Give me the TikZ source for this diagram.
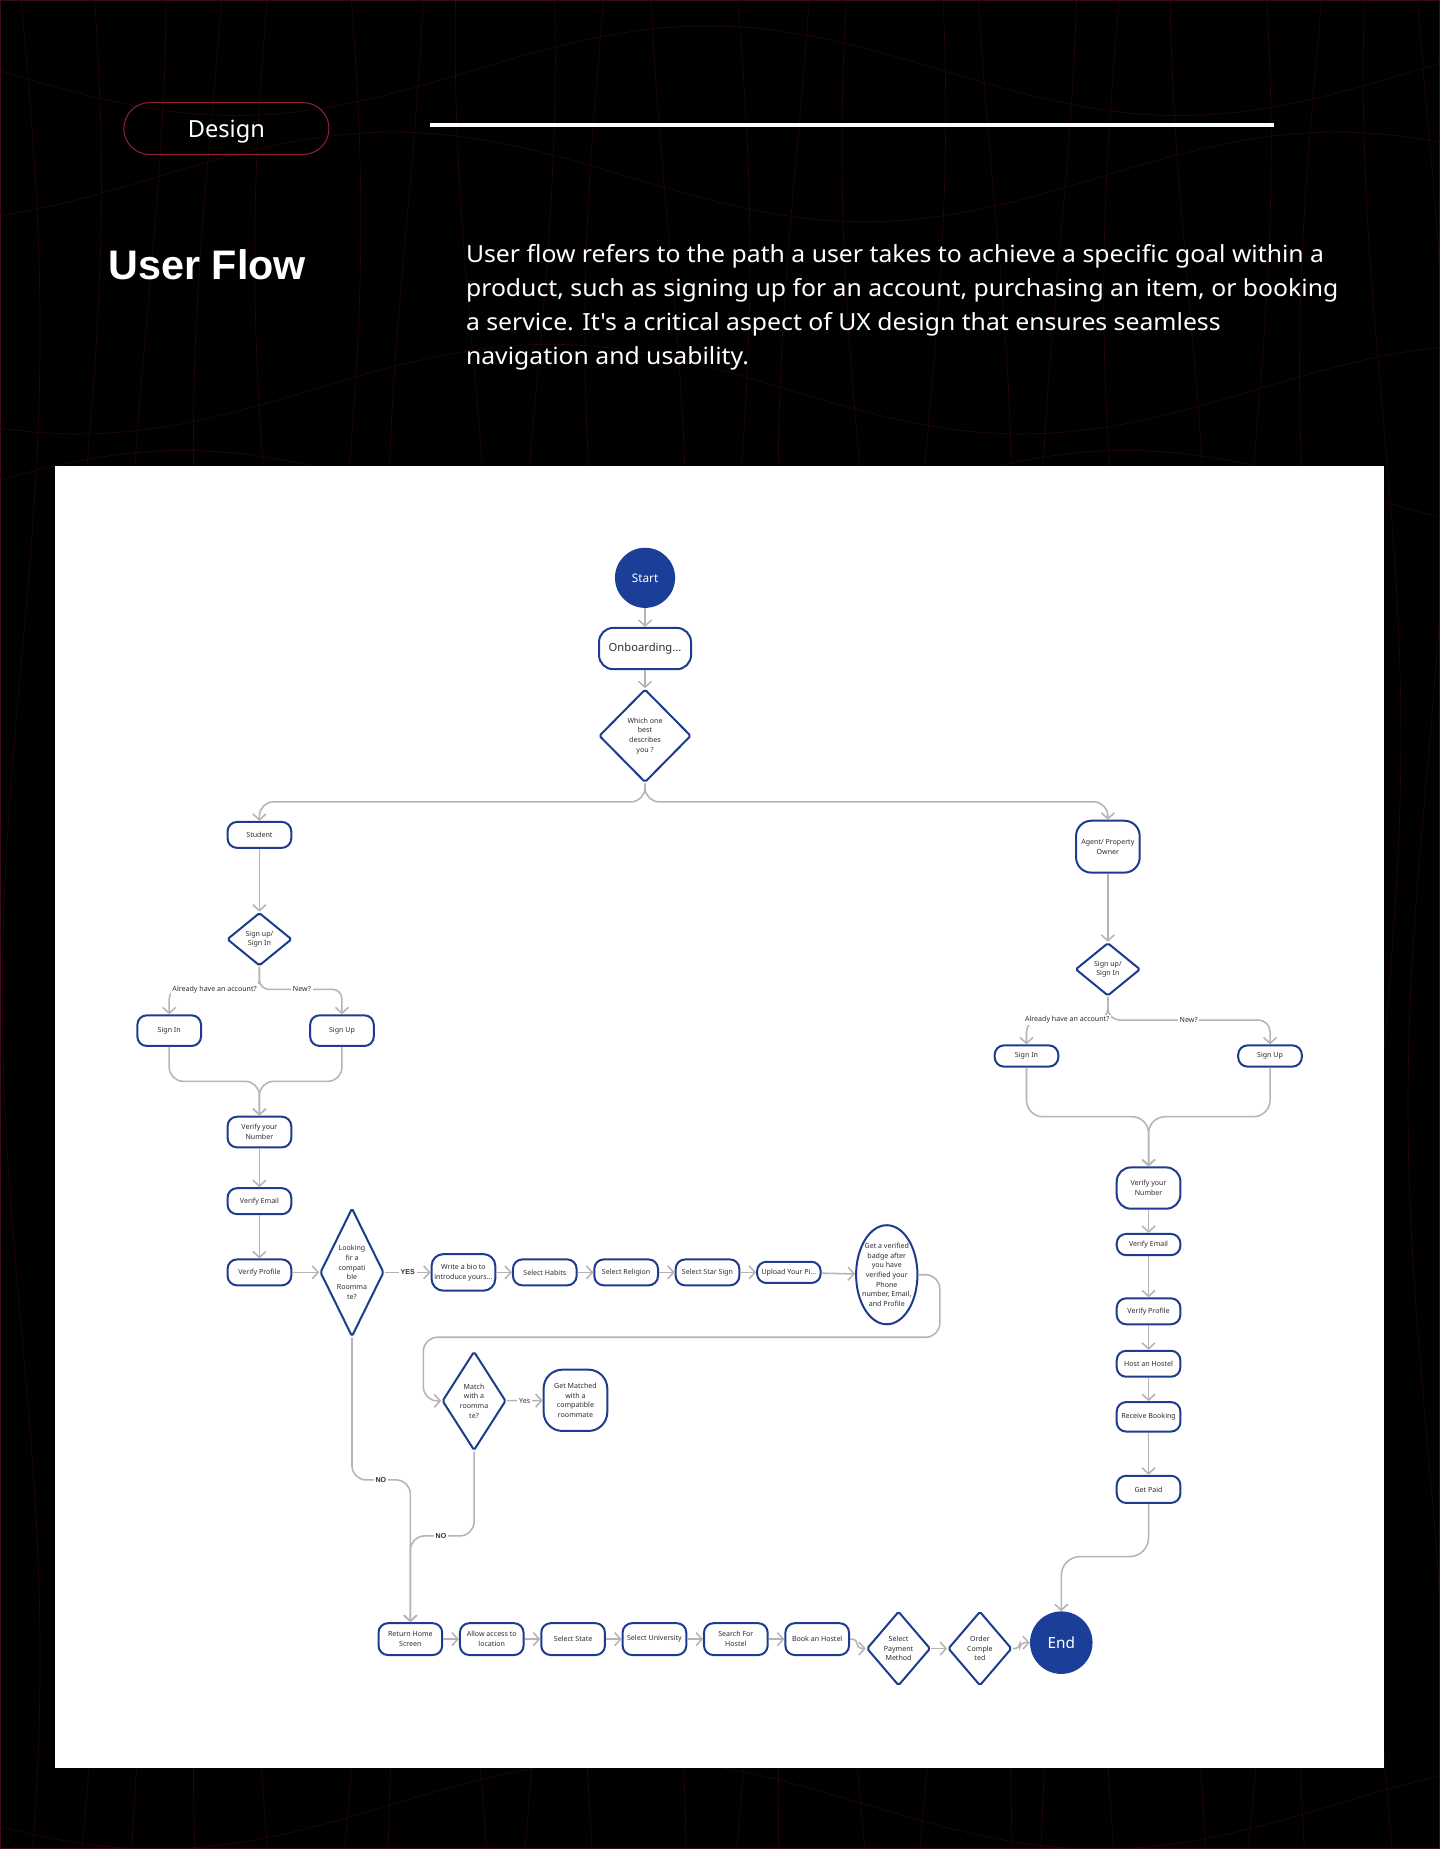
\documentclass[tikz,border=0pt]{standalone}
\usepackage{fontspec}
\setmainfont{Noto Sans}
\newfontfamily\parafont{Noto Sans}[Ligatures=TeXOff]
\newfontfamily\boldfont{Liberation Sans}
\usetikzlibrary{arrows.meta,shapes.geometric,calc}
\definecolor{nodeblue}{HTML}{1E3C8F}
\definecolor{fillblue}{HTML}{1B3F98}
\definecolor{conn}{HTML}{B4B4B4}
\definecolor{txt}{HTML}{2E2E2E}
\definecolor{wave}{HTML}{220709}
\definecolor{edge}{HTML}{3A0C15}
\definecolor{pill}{HTML}{8E1F33}
\begin{document}
\begin{tikzpicture}[x=1pt,y=-1pt,
  box/.style={draw=nodeblue, line width=1.7pt, rounded corners=8pt, fill=white,
    minimum width=54pt, minimum height=22pt, inner sep=0.5pt, align=center,
    font=\fontsize{6}{8.2}\selectfont, text=txt},
  dia/.style={draw=nodeblue, line width=1.7pt, diamond, fill=white, inner sep=0pt,
    rounded corners=1.5pt},
  ell/.style={draw=nodeblue, line width=1.7pt, ellipse, fill=white, inner sep=0pt},
  dtext/.style={font=\fontsize{6}{8.2}\selectfont, align=center, text=txt, inner sep=0pt},
  circ/.style={circle, fill=fillblue, text=white, inner sep=0pt},
  arr/.style={draw=conn, line width=1.3pt, -{Straight Barb[length=5pt,width=11pt]}},
  lbl/.style={font=\fontsize{6}{7}\selectfont, text=txt, fill=white, inner sep=1.5pt},
  blbl/.style={lbl, font=\boldfont\bfseries\fontsize{6}{7}\selectfont},
  para/.style={anchor=base west, inner sep=0pt, text=white, font=\parafont\fontsize{20}{24}\selectfont},
  wv/.style={draw=wave, line width=0.6pt}
]
% background
\fill[black] (0,0) rectangle (1221,1568);
\useasboundingbox (0,0) rectangle (1221,1568);
\foreach \a/\ph in {18/0,70/40,125/95,180/150,232/200,290/30,345/120,402/260,455/75,512/180,566/300,620/20,676/140,730/230,786/60,842/310,898/110,952/190,1008/280,1062/50,1118/170,1172/250,1210/330}{
  \draw[wv, variable=\t, domain=0:1568, samples=30, smooth] plot ({\a + 16*sin(\t*0.32+\ph)}, {\t});
}
\foreach \b/\ph in {60/0,150/120,330/60,420/200,1530/30}{
  \draw[wv, variable=\t, domain=0:1221, samples=60, smooth] plot ({\t}, {\b + 38*sin(\t*0.45+\ph)});
}
\draw[draw=edge, line width=1pt] (0.5,0.5) rectangle (1220.5,1567.5);

% header
\node[draw=pill, line width=0.9pt, rounded corners=22pt, minimum width=174pt, minimum height=44pt,
  text=white, font=\fontsize{20}{24}\selectfont, text height=14.5pt, text depth=0pt] (design) at (192,109) {Design};
\coordinate (hl1) at (365,106);
\coordinate (hl2) at (1080,106);
\draw[white, line width=4pt] (hl1) -- (hl2);
\node[anchor=base west, inner sep=0pt, text=white, font=\boldfont\bfseries\fontsize{35}{40}\selectfont] (title) at (92,237) {User Flow};
\node[para] (p1) at (395,223) {\scalebox{1.05}[1]{User flow refers to the path a user takes to achieve a specific goal within a}};
\node[para] (p2) at (395,251.5) {\scalebox{1.05}[1]{product, such as signing up for an account, purchasing an item, or booking}};
\node[para] (p3) at (395,280) {\scalebox{1.05}[1]{a service. It's a critical aspect of UX design that ensures seamless}};
\node[para] (p4) at (395,309) {\scalebox{1.05}[1]{navigation and usability.}};

% panel
\fill[white] (47,395) rectangle (1174,1499);

% nodes
\node[circ, minimum size=51pt, font=\fontsize{10}{12}\selectfont] (start) at (547,490) {Start};
\node[box, minimum width=78pt, minimum height=35pt, rounded corners=12pt, font=\fontsize{9.5}{11}\selectfont] (onb) at (547,550) {Onboarding...};
\node[dia, minimum width=78pt, minimum height=79pt, label={[dtext]center:{Which one\\best\\describes\\you ?}}] (d1) at (547,624) {};
\node[box] (student) at (220,708) {Student};
\node[box, minimum height=44pt, rounded corners=13pt] (agent) at (939.5,718) {Agent/ Property\\Owner};
\node[dia, minimum width=55pt, minimum height=45pt, label={[dtext]center:{Sign up/\\Sign In}}] (sdL) at (220,796.5) {};
\node[dia, minimum width=55pt, minimum height=45pt, label={[dtext]center:{Sign up/\\Sign In}}] (sdR) at (939.5,822) {};
\node[box, minimum height=26pt] (sinL) at (143.5,874) {Sign In};
\node[box, minimum height=26pt] (supL) at (290,874) {Sign Up};
\node[box, minimum height=18pt] (sinR) at (870.5,895.5) {Sign In};
\node[box, minimum height=18pt] (supR) at (1077,895.5) {Sign Up};
\node[box, minimum height=26pt] (vnL) at (220,960) {Verify your\\Number};
\node[box] (veL) at (220,1018.6) {Verify Email};
\node[box] (vpL) at (220,1079) {Verify Profile};
\node[dia, minimum width=54pt, minimum height=109pt, label={[dtext]center:{Looking\\fir a\\compati\\ble\\Roomma\\te?}}] (look) at (298.5,1079) {};
\node[box, minimum height=31pt, rounded corners=10pt] (bio) at (393,1079) {Write a bio to\\introduce yours...};
\node[box] (habits) at (462,1079) {Select Habits};
\node[box] (relig) at (531,1079) {Select Religion};
\node[box] (star) at (600,1079) {Select Star Sign};
\node[box, minimum height=18pt] (upload) at (669,1079) {Upload Your Pi...};
\node[ell, minimum width=52pt, minimum height=84pt, label={[dtext]center:{Get a verified\\badge after\\you have\\verified your\\Phone\\number, Email,\\and Profile}}] (badge) at (752,1081) {};
\node[dia, minimum width=54pt, minimum height=84pt, label={[dtext]center:{Match\\with a\\roomma\\te?}}] (match) at (402,1188) {};
\node[box, minimum height=52pt, rounded corners=16pt] (gotm) at (488,1187.5) {Get Matched\\with a\\compatible\\roommate};

\node[box, minimum height=27pt] (home) at (348,1390) {Return Home\\Screen};
\node[box, minimum height=27pt] (allow) at (417,1390) {Allow access to\\location};
\node[box, minimum height=27pt] (state) at (486,1390) {Select State};
\node[box, minimum height=27pt] (uni) at (555,1390) {Select University};
\node[box, minimum height=27pt] (search) at (624,1390) {Search For\\Hostel};
\node[box, minimum height=27pt] (book) at (693,1390) {Book an Hostel};
\node[dia, minimum width=54pt, minimum height=63pt, label={[dtext]center:{Select\\Payment\\Method}}] (pay) at (762,1398) {};
\node[dia, minimum width=54pt, minimum height=63pt, label={[dtext]center:{Order\\Comple\\ted}}] (order) at (831,1398) {};
\node[circ, minimum size=53pt, font=\fontsize{13}{15}\selectfont] (end) at (900,1393) {End};

\node[box, minimum height=35pt, rounded corners=12pt] (vnR) at (974,1007.5) {Verify your\\Number};
\node[box, minimum height=18pt] (veR) at (974,1055.4) {Verify Email};
\node[box] (vpR) at (974,1112) {Verify Profile};
\node[box] (host) at (974,1156.5) {Host an Hostel};
\node[box, minimum height=25pt] (recv) at (974,1201.5) {Receive Booking};
\node[box, minimum height=23pt] (paid) at (974,1263) {Get Paid};

% connectors
\draw[arr] (start) -- (onb);
\draw[arr] (onb) -- (d1);
\coordinate (br) at (547,680);
\draw[arr, rounded corners=12pt] (d1.south) -- (br) -| (student.north);
\draw[arr, rounded corners=12pt] (d1.south) -- (br) -| (agent.north);

\draw[arr] (student) -- (sdL);
\coordinate (jL) at (220,839);
\draw[arr, rounded corners=8pt] (sdL.south) -- (jL) -| (sinL.north);
\draw[arr, rounded corners=8pt] (sdL.south) -- (jL) -| (supL.north);
\node[lbl] (la1) at (182,839) {Already have an account?};
\node[lbl] (ln1) at (256,839) {New?};
\coordinate (mL) at (220,917);
\draw[arr, rounded corners=12pt] (sinL.south) |- (mL) -- (vnL.north);
\draw[arr, rounded corners=12pt] (supL.south) |- (mL) -- (vnL.north);
\draw[arr] (vnL) -- (veL);
\draw[arr] (veL) -- (vpL);
\draw[arr] (vpL) -- (look);
\draw[arr] (look) -- (bio) node[blbl, midway] (yes1) {YES};
\draw[arr] (bio) -- (habits);
\draw[arr] (habits) -- (relig);
\draw[arr] (relig) -- (star);
\draw[arr] (star) -- (upload);
\draw[arr] (upload) -- (badge);
\coordinate (lpA) at (797,1134);
\coordinate (lpB) at (359,1188);
\draw[arr, rounded corners=12pt] (badge.east) -| (lpA) -| (lpB) -- (match.west);
\draw[arr] (match) -- (gotm) node[lbl, midway] (yes2) {Yes};
\coordinate (no1) at (348,1255);
\coordinate (no2) at (348,1302.5);
\draw[arr, rounded corners=12pt] (look.south) |- (no1) -- (home.north);
\draw[arr, rounded corners=12pt] (match.south) |- (no2) -- (home.north);
\node[blbl] (nol1) at (323,1255) {NO};
\node[blbl] (nol2) at (374,1302.5) {NO};

\draw[arr] (home) -- (allow);
\draw[arr] (allow) -- (state);
\draw[arr] (state) -- (uni);
\draw[arr] (uni) -- (search);
\draw[arr] (search) -- (book);
\draw[arr, rounded corners=4pt] (book.east) -- ++(6,0) |- (pay.west);
\draw[arr] (pay) -- (order);
\draw[arr, rounded corners=4pt] (order.east) -- ++(6,0) |- (end.west);

\draw[arr] (agent) -- (sdR);
\coordinate (jR) at (939.5,865);
\draw[arr, rounded corners=10pt] (sdR.south) -- (jR) -| (sinR.north);
\draw[arr, rounded corners=10pt] (sdR.south) -- (jR) -| (supR.north);
\node[lbl] (la2) at (905,865) {Already have an account?};
\node[lbl] (ln2) at (1008,865) {New?};
\coordinate (mR) at (974,947);
\draw[arr, rounded corners=14pt] (sinR.south) |- (mR) -- (vnR.north);
\draw[arr, rounded corners=14pt] (supR.south) |- (mR) -- (vnR.north);
\draw[arr] (vnR) -- (veR);
\draw[arr] (veR) -- (vpR);
\draw[arr] (vpR) -- (host);
\draw[arr] (host) -- (recv);
\draw[arr] (recv) -- (paid);
\coordinate (ec) at (900,1320);
\draw[arr, rounded corners=16pt] (paid.south) |- (ec) -- (end.north);
\end{tikzpicture}
\end{document}
